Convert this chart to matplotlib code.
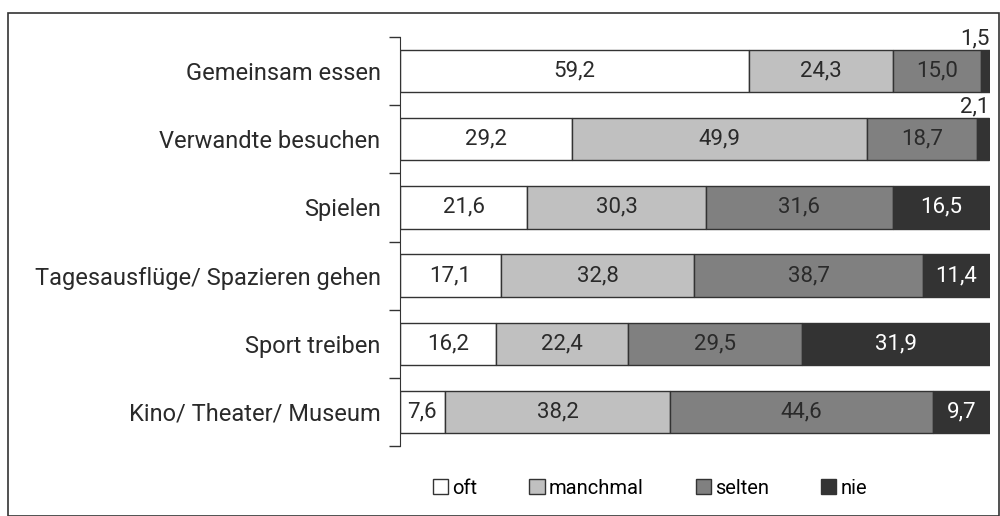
import matplotlib
matplotlib.use("Agg")
import matplotlib.pyplot as plt
from matplotlib.patches import Rectangle, Patch
import numpy as np

plt.rcParams['font.family'] = ['Roboto', 'DejaVu Sans']

categories = ["Gemeinsam essen", "Verwandte besuchen", "Spielen",
              "Tagesausflüge/ Spazieren gehen", "Sport treiben", "Kino/ Theater/ Museum"]
oft = [59.2, 29.2, 21.6, 17.1, 16.2, 7.6]
manchmal = [24.3, 49.9, 30.3, 32.8, 22.4, 38.2]
selten = [15.0, 18.7, 31.6, 38.7, 29.5, 44.6]
nie = [1.5, 2.1, 16.5, 11.4, 31.9, 9.7]
series_names = ["oft", "manchmal", "selten", "nie"]
colors = ["#ffffff", "#c0c0c0", "#808080", "#333333"]
text_colors = ["#2a2a2a", "#2a2a2a", "#2a2a2a", "#ffffff"]

fig = plt.figure(figsize=(10, 5.16), dpi=100)
ax = fig.add_axes([0.4, 1 - 446 / 516, 0.59, (446 - 37) / 516])

y = np.arange(len(categories))
left = np.zeros(len(categories))
bar_h = 0.62
for vals, name, col, tcol in zip([oft, manchmal, selten, nie], series_names, colors, text_colors):
    vals = np.array(vals)
    ax.barh(y, vals, left=left, height=bar_h, color=col, edgecolor="#333333", linewidth=1, label=name)
    for i, v in enumerate(vals):
        txt = f"{v:.1f}".replace(".", ",")
        if v < 5:
            # tiny segments: label sits above the bar's right end
            ax.text(left[i] + v, y[i] - bar_h / 2 - 0.01, txt, ha="right", va="bottom",
                    fontsize=16, color="#2a2a2a")
        else:
            ax.text(left[i] + v / 2, y[i], txt, ha="center", va="center",
                    fontsize=16, color=tcol)
    left += vals

ax.set_xlim(0, 100)
ax.set_ylim(len(categories) - 0.5, -0.5)
ax.set_yticks(np.arange(-0.5, len(categories)), minor=False)
ax.set_yticklabels([])
ax.set_yticks(y, minor=True)
ax.set_yticklabels(categories, minor=True, fontsize=17, color="#2a2a2a")
ax.tick_params(axis="y", which="minor", length=0, pad=14)
ax.tick_params(axis="y", which="major", length=8, width=1, color="#333333")
ax.set_xticks([])
for s in ["top", "right", "bottom"]:
    ax.spines[s].set_visible(False)
ax.spines["left"].set_color("#333333")

handles = [Patch(facecolor=c, edgecolor="#333333", linewidth=1) for c in colors]
fig.legend(handles, series_names, loc="center", bbox_to_anchor=(0.65, 1 - 488 / 516),
           ncol=4, frameon=False, fontsize=14.5, handlelength=0.75, handleheight=0.75,
           handletextpad=0.2, columnspacing=2.6)

fig.patches.append(Rectangle((8 / 1000, 0), 991 / 1000, 1 - 13 / 516, transform=fig.transFigure,
                             fill=False, edgecolor="#333333", linewidth=1.2))

fig.savefig("out.png", dpi=100)
